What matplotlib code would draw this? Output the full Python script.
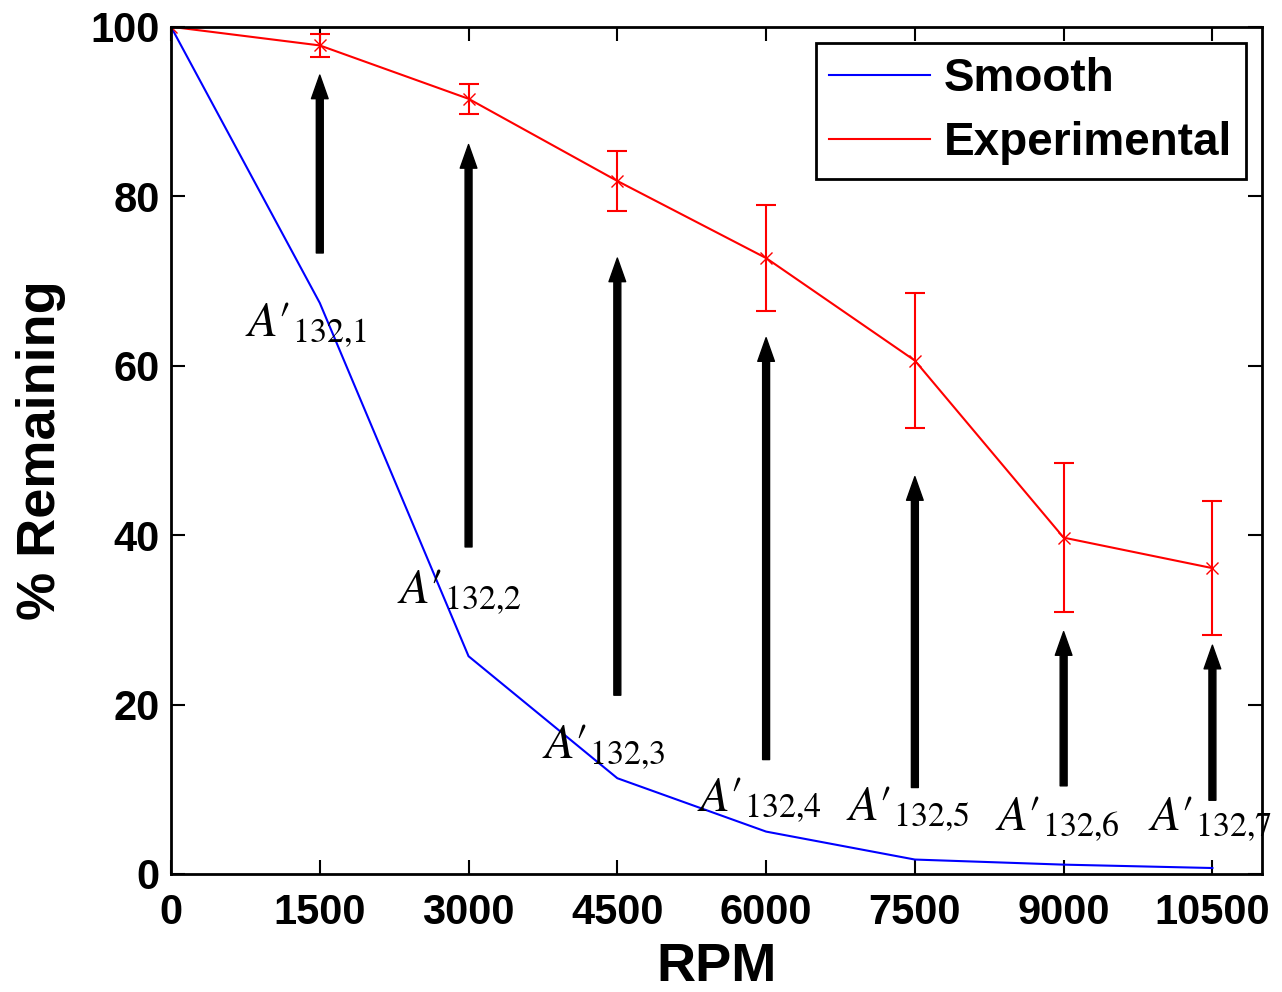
import matplotlib
matplotlib.use("Agg")
import matplotlib.pyplot as plt
from matplotlib.lines import Line2D

plt.rcParams["font.family"] = ["Liberation Sans", "DejaVu Sans"]
plt.rcParams["mathtext.fontset"] = "stix"

rpm = [0, 1500, 3000, 4500, 6000, 7500, 9000, 10500]
smooth = [100, 67.4, 25.7, 11.3, 5.0, 1.7, 1.1, 0.7]
experimental = [100, 97.8, 91.5, 81.8, 72.7, 60.6, 39.7, 36.1]
exp_err = [0, 1.4, 1.8, 3.5, 6.3, 8.0, 8.8, 7.9]

arrow_x = [1500, 3000, 4500, 6000, 7500, 9000, 10500]
arrow_tail = [73.3, 38.6, 21.1, 13.5, 10.2, 10.4, 8.7]
arrow_head = [94.3, 86.1, 72.7, 63.3, 46.9, 28.6, 27.0]

label_x = [744, 2274, 3743, 5302, 6801, 8310, 9849]
label_y = [64.8, 33.3, 14.9, 8.7, 7.6, 6.4, 6.4]
labels = [r"$A\prime_{\mathrm{132{,}%d}}$" % k for k in range(1, 8)]

fig = plt.figure(figsize=(12.82, 9.92), dpi=100)
ax = fig.add_axes([0.1334, 0.119, 0.851, 0.854])

ax.plot(rpm, smooth, color="blue", lw=1.5)
ax.errorbar(rpm, experimental, yerr=exp_err, color="red", lw=1.5, marker="x",
            markersize=9, capsize=7, elinewidth=1.5, capthick=1.5)

for x, t, h in zip(arrow_x, arrow_tail, arrow_head):
    ax.annotate("", xy=(x, h), xytext=(x, t),
                arrowprops=dict(facecolor="black", edgecolor="black",
                                width=5, headwidth=12, headlength=17, shrink=0))

for x, y, s in zip(label_x, label_y, labels):
    ax.text(x, y, s, fontsize=35, va="center", ha="left", clip_on=False)

ax.set_xlim(0, 11000)
ax.set_ylim(0, 100)
ax.set_xticks(rpm)
ax.set_yticks([0, 20, 40, 60, 80, 100])
ax.tick_params(direction="in", length=10, width=1.5, labelsize=30,
               top=True, right=True)
ax.tick_params(axis="x", pad=14)
ax.tick_params(axis="y", pad=8)
for lab in ax.get_xticklabels() + ax.get_yticklabels():
    lab.set_fontweight("bold")
for sp in ax.spines.values():
    sp.set_linewidth(2)

ax.set_xlabel("RPM", fontsize=39, fontweight="bold", labelpad=6)
ax.set_ylabel("% Remaining", fontsize=39, fontweight="bold", labelpad=18)

handles = [Line2D([], [], color="blue", lw=1.5),
           Line2D([], [], color="red", lw=1.5)]
leg = ax.legend(handles, ["Smooth", "Experimental"], loc="upper right",
                prop=dict(size=33, weight="bold"), fancybox=False,
                edgecolor="black", framealpha=1, handlelength=2.2,
                borderaxespad=0.35, labelspacing=0.45, handletextpad=0.3,
                borderpad=0.3)
leg.get_frame().set_linewidth(2)

fig.savefig("out.png", dpi=100)
